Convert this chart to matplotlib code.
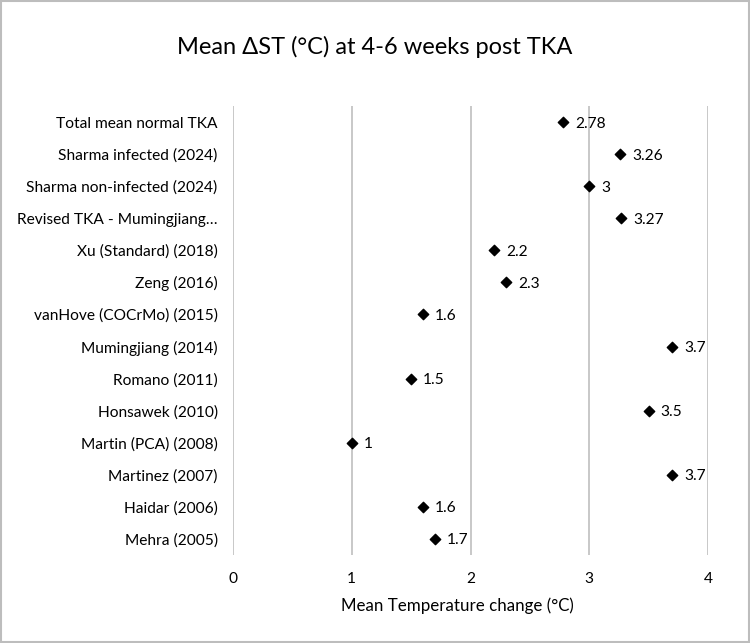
import matplotlib.pyplot as plt
from matplotlib.patches import Rectangle

plt.rcParams['font.family'] = ['Lato', 'DejaVu Sans']

studies = [
    "Total mean normal TKA",
    "Sharma infected (2024)",
    "Sharma non-infected (2024)",
    "Revised TKA - Mumingjiang\u2026",
    "Xu (Standard) (2018)",
    "Zeng (2016)",
    "vanHove (COCrMo) (2015)",
    "Mumingjiang (2014)",
    "Romano (2011)",
    "Honsawek (2010)",
    "Martin (PCA) (2008)",
    "Martinez (2007)",
    "Haidar (2006)",
    "Mehra (2005)",
]
mean_dst = [2.78, 3.26, 3, 3.27, 2.2, 2.3, 1.6, 3.7, 1.5, 3.5, 1, 3.7, 1.6, 1.7]
x_ticks = [0, 1, 2, 3, 4]

fig = plt.figure(figsize=(7.5, 6.43), dpi=100)
ax = fig.add_axes([233 / 750, 1 - 555 / 643, 475 / 750, 449 / 643])

ypos = list(range(len(studies)))[::-1]
ax.scatter(mean_dst, ypos, marker='D', s=28, color='black', zorder=3)
for v, y in zip(mean_dst, ypos):
    ax.annotate(f"{v:g}", (v, y), xytext=(8.5, 0), textcoords='offset points',
                va='center_baseline', ha='left', fontsize=11.2)

ax.set_xlim(0, 4)
ax.set_ylim(-0.5, len(studies) - 0.5)
ax.set_xticks(x_ticks)
ax.set_yticks(ypos)
ax.set_yticklabels(studies)
ax.grid(axis='x', color='#bfbfbf', linewidth=1.2)
ax.set_axisbelow(True)
for s in ax.spines.values():
    s.set_visible(False)
ax.tick_params(axis='both', length=0, labelsize=11.2)
ax.tick_params(axis='y', pad=11)
ax.tick_params(axis='x', pad=12)
ax.set_xlabel("Mean Temperature change (\u00b0C)", fontsize=12.2, labelpad=9)
ax.xaxis.set_label_coords(0.472, -0.095)

fig.text(0.5, 1 - 47 / 643, "Mean \u0394ST (\u00b0C) at 4-6 weeks post TKA",
         ha='center', va='center', fontsize=17)

fig.patches.append(Rectangle((0.001, 0.001), 0.998, 0.997, transform=fig.transFigure,
                             fill=False, edgecolor='#bdbdbd', linewidth=1.5))

fig.savefig('out.png', dpi=100)
